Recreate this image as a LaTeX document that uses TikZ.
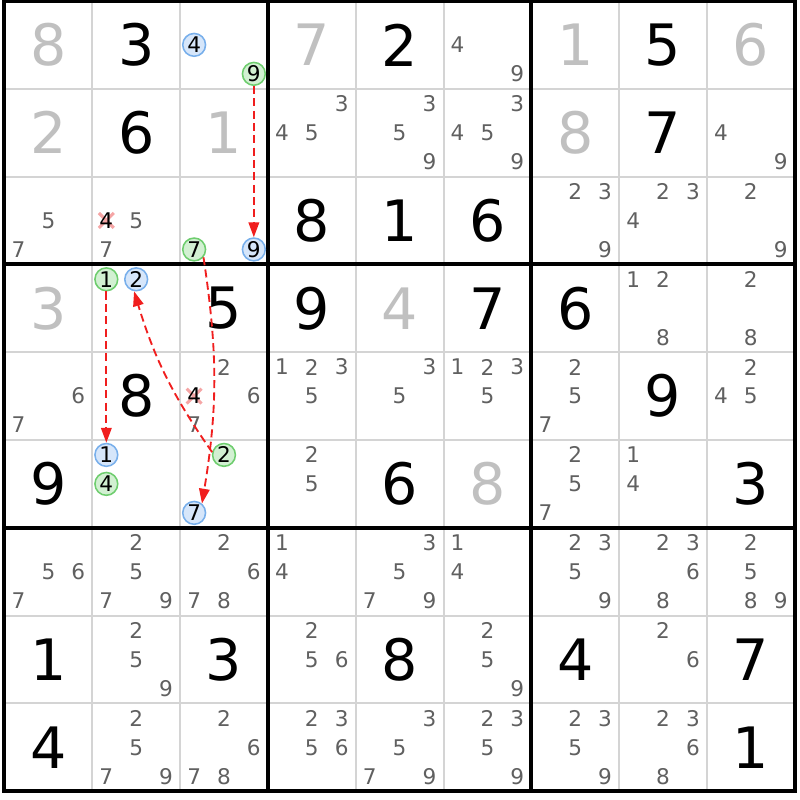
\documentclass[tikz,border=0pt]{standalone}
\usepackage{fontspec}
\setmainfont{DejaVu Sans}
\definecolor{givengray}{RGB}{192,192,192}
\definecolor{candgray}{RGB}{96,96,96}
\definecolor{gridgray}{RGB}{212,212,212}
\definecolor{blueedge}{RGB}{120,175,235}
\definecolor{bluefill}{RGB}{214,230,250}
\definecolor{greenedge}{RGB}{110,205,110}
\definecolor{greenfill}{RGB}{210,240,210}
\definecolor{linkred}{RGB}{240,30,30}
\definecolor{crosspink}{RGB}{245,165,165}
\usetikzlibrary{arrows.meta}

\begin{document}
\begin{tikzpicture}[
    thinline/.style={draw=gridgray, line width=0.65pt},
    boxline/.style={draw=black, line width=1.3pt, line cap=rect},
    given/.style={font=\fontsize{18.5}{19}\selectfont, text=givengray, inner sep=0pt},
    solved/.style={font=\fontsize{18.5}{19}\selectfont, text=black, inner sep=0pt},
    cand/.style={font=\fontsize{7}{7}\selectfont, text=candgray, inner sep=0pt},
    bluecand/.style={circle, draw=blueedge, fill=bluefill, line width=0.5pt, minimum size=0.26cm, inner sep=0pt, font=\fontsize{7}{7}\selectfont, text=black},
    greencand/.style={bluecand, draw=greenedge, fill=greenfill},
    crossline/.style={draw=crosspink, line width=1pt},
    link/.style={draw=linkred, line width=0.6pt, dash pattern=on 2.6pt off 1.4pt, -{Triangle[length=4.8pt,width=3.4pt]}}
]
    \useasboundingbox (-0.051,0.011) rectangle (9.057,-9.1);
    % grid
    \foreach \i in {1,...,8} {
        \draw[thinline] (\i,0) -- (\i,-9);
        \draw[thinline] (0,-\i) -- (9,-\i);
    }
    \foreach \i in {0,3,6,9} {
        \draw[boxline] (\i,0) -- (\i,-9);
        \draw[boxline] (0,-\i) -- (9,-\i);
    }
    % big digits
    \foreach \r/\c/\d in {1/1/8, 1/4/7, 1/7/1, 1/9/6, 2/1/2, 2/3/1, 2/7/8, 4/1/3, 4/5/4, 6/6/8} {
        \node[given] (g\r\c) at (\c-0.5,-\r+0.5) {\d};
    }
    \foreach \r/\c/\d in {1/2/3, 1/5/2, 1/8/5, 2/2/6, 2/8/7, 3/4/8, 3/5/1, 3/6/6, 4/3/5, 4/4/9, 4/6/7, 4/7/6,
                          5/2/8, 5/8/9, 6/1/9, 6/5/6, 6/9/3, 8/1/1, 8/3/3, 8/5/8, 8/7/4, 8/9/7, 9/1/4, 9/9/1} {
        \node[solved] (g\r\c) at (\c-0.5,-\r+0.5) {\d};
    }
    % candidates
    \foreach \r/\c/\ds in {1/6/{4,9}, 2/4/{3,4,5}, 2/5/{3,5,9}, 2/6/{3,4,5,9}, 2/9/{4,9},
                           3/1/{5,7}, 3/2/{5,7}, 3/7/{2,3,9}, 3/8/{2,3,4}, 3/9/{2,9},
                           4/8/{1,2,8}, 4/9/{2,8}, 5/1/{6,7}, 5/3/{2,6,7}, 5/4/{1,2,3,5}, 5/5/{3,5},
                           5/6/{1,2,3,5}, 5/7/{2,5,7}, 5/9/{2,4,5}, 6/4/{2,5}, 6/7/{2,5,7}, 6/8/{1,4},
                           7/1/{5,6,7}, 7/2/{2,5,7,9}, 7/3/{2,6,7,8}, 7/4/{1,4}, 7/5/{3,5,7,9}, 7/6/{1,4},
                           7/7/{2,3,5,9}, 7/8/{2,3,6,8}, 7/9/{2,5,8,9}, 8/2/{2,5,9}, 8/4/{2,5,6}, 8/6/{2,5,9},
                           8/8/{2,6}, 9/2/{2,5,7,9}, 9/3/{2,6,7,8}, 9/4/{2,3,5,6}, 9/5/{3,5,7,9},
                           9/6/{2,3,5,9}, 9/7/{2,3,5,9}, 9/8/{2,3,6,8}} {
        \foreach \d in \ds {
            \pgfmathsetmacro{\px}{\c-0.5+0.34*(mod(\d-1,3)-1)}
            \pgfmathsetmacro{\py}{-\r+0.5-0.33*(floor((\d-1)/3)-1)}
            \node[cand] (c\r\c\d) at (\px,\py) {\d};
        }
    }
    % eliminated candidates
    \foreach \r/\c/\d in {3/2/4, 5/3/4} {
        \pgfmathsetmacro{\px}{\c-0.5+0.34*(mod(\d-1,3)-1)}
        \pgfmathsetmacro{\py}{-\r+0.5-0.33*(floor((\d-1)/3)-1)}
        \draw[crossline] (\px-0.085,\py-0.085) -- (\px+0.085,\py+0.085)
                         (\px-0.085,\py+0.085) -- (\px+0.085,\py-0.085);
        \node[cand, text=black] (c\r\c\d) at (\px,\py) {\d};
    }
    % chain candidates
    \foreach \r/\c/\d/\s in {1/3/4/bluecand, 1/3/9/greencand, 3/3/7/greencand, 3/3/9/bluecand,
                             4/2/1/greencand, 4/2/2/bluecand, 6/2/1/bluecand, 6/2/4/greencand,
                             6/3/2/greencand, 6/3/7/bluecand} {
        \pgfmathsetmacro{\px}{\c-0.5+0.34*(mod(\d-1,3)-1)}
        \pgfmathsetmacro{\py}{-\r+0.5-0.33*(floor((\d-1)/3)-1)}
        \node[\s] (c\r\c\d) at (\px,\py) {\d};
    }
    % links
    \draw[link] (c139) -- (c339);
    \draw[link] (c337.-40) to[bend left=9] (c637.50);
    \draw[link] (c421) -- (c621);
    \draw[link] (c632.167) to[bend left=9] (c422.-100);
\end{tikzpicture}
\end{document}
